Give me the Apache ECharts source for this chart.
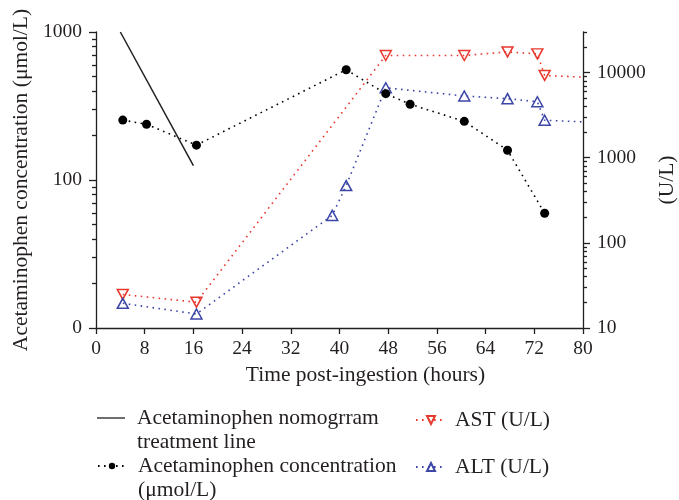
<!DOCTYPE html>
<html><head><meta charset="utf-8">
<script src="https://cdn.jsdelivr.net/npm/echarts@6/dist/echarts.min.js"></script>
<style>html,body{margin:0;padding:0;background:#fff}#c{width:679px;height:500px}</style>
</head><body><div id="c"></div>
<script>
// ---- data ----
const xTickInterval = 8;
const leftMajorTicks = [10, 100, 1000];
const leftTickLabels = ['0', '100', '1000'];
const leftMinorTicks = [20, 30, 40, 50, 60, 70, 80, 90, 200, 300, 400, 500, 600, 700, 800, 900];
const rightMajorTicks = [10, 100, 1000, 10000];
const rightTickLabels = ['10', '100', '1000', '10000'];
const rightMinorTicks = [20, 30, 40, 50, 60, 70, 80, 90, 200, 300, 400, 500, 600, 700, 800, 900,
  2000, 3000, 4000, 5000, 6000, 7000, 8000, 9000, 20000, 30000];

const nomogramTime = [4, 16];
const nomogramConc = [1000, 125];
const concTime = [4.4, 8.3, 16.5, 41.1, 47.6, 51.6, 60.5, 67.6, 73.7];
const concValues = [254, 238, 172, 556, 383, 325, 249, 159, 59.6];
const astTime = [4.4, 16.5, 47.6, 60.5, 67.6, 72.5, 73.7, 84];
const astValues = [24.8, 20.1, 15900, 15900, 17500, 16600, 9270, 8600];
const altTime = [4.4, 16.5, 38.8, 41.1, 47.6, 60.5, 67.6, 72.5, 73.7, 84];
const altValues = [19.5, 14.6, 210, 471, 6640, 5310, 4940, 4550, 2760, 2560];

const names = {
  nomo: 'Acetaminophen nomogrram treatment line',
  conc: 'Acetaminophen concentration (\u03bcmol/L)',
  ast: 'AST (U/L)',
  alt: 'ALT (U/L)'
};
const legendText = {};
legendText[names.nomo] = 'Acetaminophen nomogrram\ntreatment line';
legendText[names.conc] = 'Acetaminophen concentration\n(\u03bcmol/L)';
legendText[names.ast] = 'AST (U/L)';
legendText[names.alt] = 'ALT (U/L)';

const zip = (xs, ys) => xs.map((x, i) => [x, ys[i]]);

// ---- styles ----
const FONT = 'Liberation Serif';
const TXT = '#231f20';
const RED = '#e8392f';
const BLUE = '#3c46a6';
const axisLineStyle = { color: TXT, width: 1.3 };

function labelMap(values, labels) {
  const m = {}; values.forEach((v, i) => m[v] = labels[i]); return m;
}
const leftMap = labelMap(leftMajorTicks, leftTickLabels);
const rightMap = labelMap(rightMajorTicks, rightTickLabels);

function legendBox(item, left, top, twoLine, width, height) {
  return {
    data: [item], left: left, top: top, padding: 0, orient: 'vertical',
    itemWidth: width, itemHeight: height, selectedMode: false,
    formatter: n => (twoLine ? '\n' : '') + legendText[n],
    textStyle: {
      fontFamily: FONT, fontSize: 21.5, color: TXT, lineHeight: 24,
      padding: twoLine ? [0, 0, 0, 7] : [0, 0, 0, 4]
    }
  };
}

const chart = echarts.init(document.getElementById('c'), null, { renderer: 'canvas' });
chart.setOption({
  animation: false,
  backgroundColor: '#fff',
  grid: { left: 96, right: 96, top: 32, bottom: 172, containLabel: false, outerBoundsMode: 'none' },
  legend: [
    legendBox({ name: names.nomo, icon: 'path://M0,0H30V1.4H0Z' }, 97, 382, true, 28, 9),
    legendBox(names.conc, 97, 430, true, 28, 8),
    legendBox(names.ast, 415, 408, false, 30, 10),
    legendBox(names.alt, 415, 455, false, 30, 10)
  ],
  xAxis: {
    type: 'value', min: 0, max: 80, interval: xTickInterval,
    name: 'Time post-ingestion (hours)', nameLocation: 'middle', nameGap: 36,
    nameTextStyle: { fontFamily: FONT, fontSize: 21.5, color: TXT, padding: [0, 0, 0, 52] },
    axisLine: { lineStyle: axisLineStyle },
    axisTick: { length: 6, lineStyle: axisLineStyle },
    axisLabel: { fontFamily: FONT, fontSize: 19.5, color: TXT, margin: 11 },
    splitLine: { show: false }
  },
  yAxis: [
    {
      type: 'log', logBase: 10, min: 10, max: 1000, position: 'left',
      name: 'Acetaminophen concentration (\u03bcmol/L)', nameLocation: 'middle', nameGap: 61, nameRotate: 90,
      nameTextStyle: { fontFamily: FONT, fontSize: 21.5, color: TXT },
      axisLine: { show: true, lineStyle: axisLineStyle },
      axisTick: { show: true, length: 7, lineStyle: axisLineStyle, customValues: leftMajorTicks },
      axisLabel: { fontFamily: FONT, fontSize: 19.5, color: TXT, margin: 14,
        customValues: leftMajorTicks, formatter: v => leftMap[Math.round(v)] },
      splitLine: { show: false }
    },
    {
      type: 'log', logBase: 10, min: 10, max: 30000, position: 'right',
      name: '(U/L)', nameLocation: 'middle', nameGap: 73, nameRotate: 90,
      nameTextStyle: { fontFamily: FONT, fontSize: 21.5, color: TXT },
      axisLine: { show: true, lineStyle: axisLineStyle },
      axisTick: { show: true, length: 7, lineStyle: axisLineStyle, customValues: rightMajorTicks },
      axisLabel: { fontFamily: FONT, fontSize: 19.5, color: TXT, margin: 14,
        customValues: rightMajorTicks, formatter: v => rightMap[Math.round(v)] },
      splitLine: { show: false }
    },
    {
      type: 'log', logBase: 10, min: 10, max: 1000, position: 'left',
      axisLine: { show: false },
      axisTick: { show: true, length: 4, lineStyle: axisLineStyle, customValues: leftMinorTicks },
      axisLabel: { show: false },
      splitLine: { show: false }
    },
    {
      type: 'log', logBase: 10, min: 10, max: 30000, position: 'right',
      axisLine: { show: false },
      axisTick: { show: true, length: 4, lineStyle: axisLineStyle, customValues: rightMinorTicks },
      axisLabel: { show: false },
      splitLine: { show: false }
    }
  ],
  series: [
    {
      name: names.nomo, type: 'line', yAxisIndex: 0, data: zip(nomogramTime, nomogramConc),
      symbol: 'none', color: TXT,
      lineStyle: { color: TXT, width: 1.5, type: 'solid' }, z: 3
    },
    {
      name: names.conc, type: 'line', yAxisIndex: 0, data: zip(concTime, concValues),
      symbol: 'circle', symbolSize: 9, color: '#000',
      itemStyle: { color: '#000' },
      lineStyle: { color: '#000', width: 1.6, type: [1.6, 4.4] }, z: 4
    },
    {
      name: names.ast, type: 'line', yAxisIndex: 1, data: zip(astTime, astValues),
      symbol: 'triangle', symbolRotate: 180, symbolSize: [11, 10], color: RED,
      itemStyle: { color: 'rgba(255,255,255,0)', borderColor: RED, borderWidth: 1.5 },
      lineStyle: { color: RED, width: 1.6, type: [1.6, 4.4] }, clip: true, z: 2
    },
    {
      name: names.alt, type: 'line', yAxisIndex: 1, data: zip(altTime, altValues),
      symbol: 'triangle', symbolSize: [11, 10], color: BLUE,
      itemStyle: { color: 'rgba(255,255,255,0)', borderColor: BLUE, borderWidth: 1.5 },
      lineStyle: { color: BLUE, width: 1.6, type: [1.6, 4.4] }, clip: true, z: 2
    }
  ]
});
</script></body></html>
